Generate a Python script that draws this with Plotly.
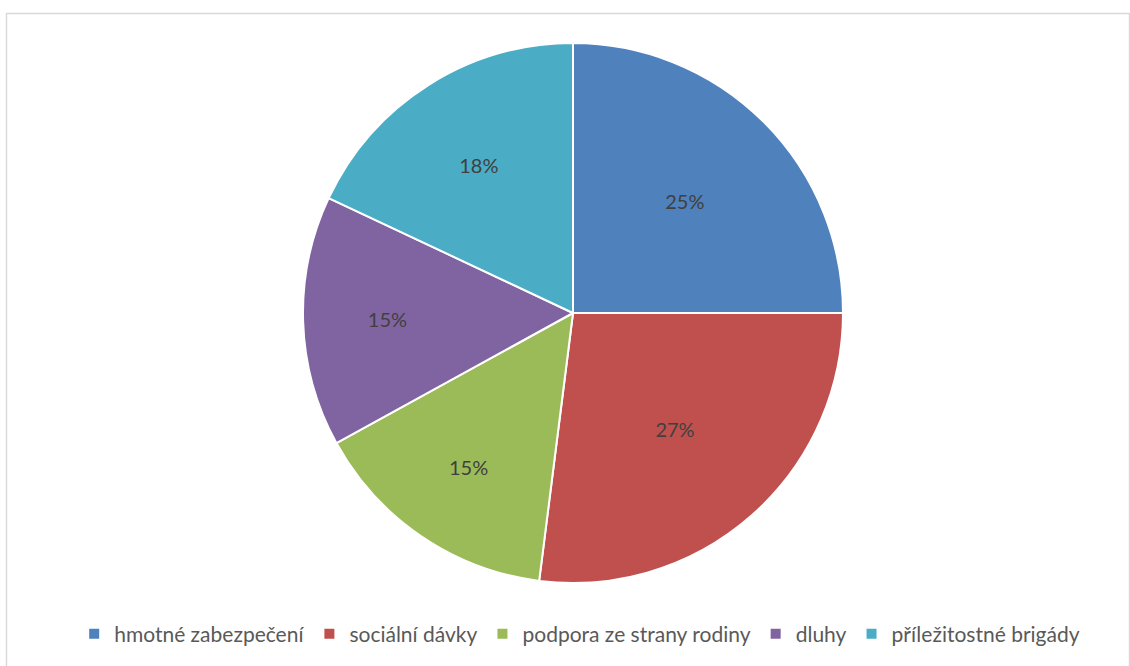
import plotly.graph_objects as go

labels = ["hmotné zabezpečení", "sociální dávky", "podpora ze strany rodiny", "dluhy", "příležitostné brigády"]
values = [25, 27, 15, 15, 18]
colors = ["#4F81BD", "#C0504D", "#9BBB59", "#8064A2", "#4BACC6"]

W, H = 1130, 666
cx, cy, r = 573, 313, 270

fig = go.Figure(go.Pie(
    labels=labels, values=values, sort=False, direction="clockwise", rotation=0,
    marker=dict(colors=colors, line=dict(color="white", width=2)),
    textinfo="percent", texttemplate="%{percent:.0%}", textposition="inside",
    insidetextorientation="horizontal",
    textfont=dict(family="Lato, Open Sans, sans-serif", size=20, color="#404040"),
    domain=dict(x=[(cx - r) / W, (cx + r) / W], y=[1 - (cy + r) / H, 1 - (cy - r) / H]),
    hoverinfo="label+percent",
))

fig.update_layout(
    width=W, height=H, margin=dict(l=0, r=0, t=0, b=0),
    paper_bgcolor="white", plot_bgcolor="white",
    showlegend=True,
    legend=dict(orientation="h", x=0.513, xanchor="center", y=1 - 634 / H, yanchor="middle",
                font=dict(family="Lato, Open Sans, sans-serif", size=21, color="#595959"),
                itemclick=False, traceorder="normal", itemwidth=30),
    shapes=[dict(type="rect", xref="paper", yref="paper",
                 x0=6.5 / W, x1=1129.5 / W, y0=-0.02, y1=1 - 13.5 / H,
                 line=dict(color="#D9D9D9", width=1.5), fillcolor="rgba(0,0,0,0)")],
)

fig.write_html("out.html")
